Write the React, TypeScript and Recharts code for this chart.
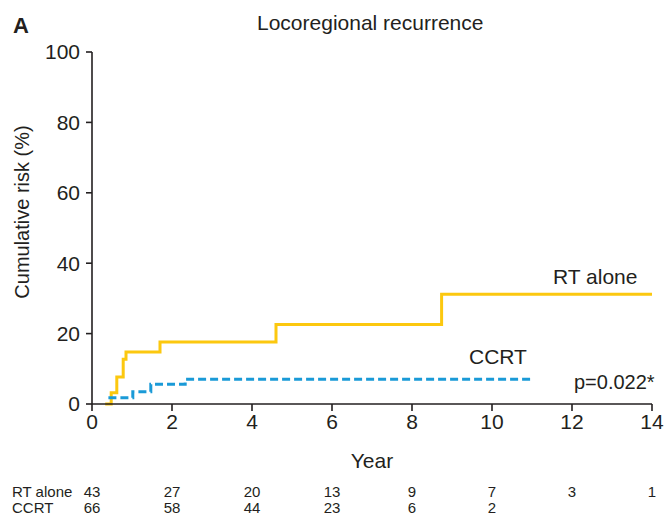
import React from 'react';
import { LineChart, Line, XAxis, YAxis } from 'recharts';

// step times (years) and cumulative risk (%)
const rtAloneYears = [0.33, 0.48, 0.62, 0.78, 0.85, 1.7, 4.6, 8.74, 14];
const rtAloneRisk = [0, 3.2, 7.7, 12.7, 14.8, 17.6, 22.6, 31.2, 31.2];
const ccrtYears = [0.41, 1.02, 1.47, 2.33, 11];
const ccrtRisk = [1.8, 3.5, 5.6, 7.0, 7.0];

const yearTicks = [0, 2, 4, 6, 8, 10, 12, 14];
const riskTicks = [0, 20, 40, 60, 80, 100];
// numbers at risk, one per year tick
const rtAloneAtRisk = [43, 27, 20, 13, 9, 7, 3, 1];
const ccrtAtRisk = [66, 58, 44, 23, 6, 2];

const rtAloneData = rtAloneYears.map((t, i) => ({ t, v: rtAloneRisk[i] }));
const ccrtData = ccrtYears.map((t, i) => ({ t, v: ccrtRisk[i] }));

const INK = '#231f20';
const FONT = '"Liberation Sans", Arial, Helvetica, sans-serif';

const txt = (left: number, top: number, size: number, extra: React.CSSProperties = {}): React.CSSProperties => ({
    position: 'absolute',
    left,
    top,
    fontSize: size,
    lineHeight: 1,
    color: INK,
    whiteSpace: 'nowrap',
    ...extra,
});

// year label plus the at-risk numbers underneath it
const YearTick = (props: any) => {
    const { x, y, payload } = props;
    const i = yearTicks.indexOf(payload.value);
    const rt = rtAloneAtRisk[i];
    const cc = ccrtAtRisk[i];
    return (
        <g fontFamily={FONT} fill={INK} textAnchor="middle">
            <text x={x} y={y + 15} fontSize={21}>{payload.value}</text>
            {rt !== undefined && <text x={x} y={y + 83} fontSize={15}>{rt}</text>}
            {cc !== undefined && <text x={x} y={y + 99} fontSize={15}>{cc}</text>}
        </g>
    );
};

export default function App() {
    return (
        <div style={{ position: 'absolute', left: 0, top: 0, width: 665, height: 514, fontFamily: FONT, background: '#fff' }}>
            <LineChart width={665} height={514} margin={{ top: 52, right: 13, left: 0, bottom: 40 }}>
                <XAxis
                    type="number"
                    dataKey="t"
                    domain={[0, 14]}
                    ticks={yearTicks}
                    allowDataOverflow
                    height={70}
                    stroke={INK}
                    strokeWidth={1.6}
                    tickSize={7}
                    tickMargin={3}
                    tick={<YearTick />}
                    label={{ value: 'Year', position: 'insideBottom', offset: 6, fill: INK, fontSize: 21, fontFamily: FONT }}
                />
                <YAxis
                    type="number"
                    domain={[0, 100]}
                    ticks={riskTicks}
                    width={92}
                    stroke={INK}
                    strokeWidth={1.6}
                    tickSize={6}
                    tickMargin={6}
                    tick={{ fill: INK, fontSize: 21, fontFamily: FONT }}
                />
                <Line
                    data={rtAloneData}
                    dataKey="v"
                    type="stepAfter"
                    stroke="#fcc80f"
                    strokeWidth={3}
                    dot={false}
                    activeDot={false}
                    isAnimationActive={false}
                />
                <Line
                    data={ccrtData}
                    dataKey="v"
                    type="stepAfter"
                    stroke="#1a9ad7"
                    strokeWidth={3}
                    strokeDasharray="8 4"
                    dot={false}
                    activeDot={false}
                    isAnimationActive={false}
                />
            </LineChart>

            <div style={txt(13, 15, 22, { fontWeight: 'bold' })}>A</div>
            <div style={txt(257, 12, 21)}>Locoregional recurrence</div>
            <div
                style={txt(-128, 202, 20, {
                    width: 300,
                    textAlign: 'center',
                    transform: 'rotate(-90deg)',
                    transformOrigin: '150px 10px',
                })}
            >
                Cumulative risk (%)
            </div>
            <div style={txt(553, 266, 21)}>RT alone</div>
            <div style={txt(469, 346, 21)}>CCRT</div>
            <div style={txt(574, 372, 20)}>p=0.022*</div>
            <div style={txt(12, 484, 15)}>RT alone</div>
            <div style={txt(12, 500, 15)}>CCRT</div>
        </div>
    );
}
